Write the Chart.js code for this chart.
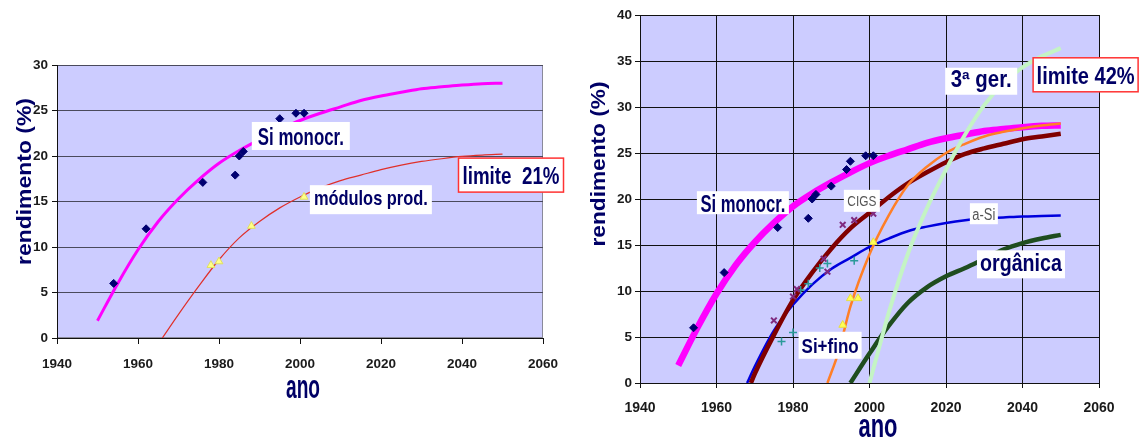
<!DOCTYPE html>
<html>
<head>
<meta charset="utf-8">
<script src="https://cdn.jsdelivr.net/npm/chart.js@4.4.1/dist/chart.umd.min.js"></script>
<style>
  html, body { margin: 0; padding: 0; background: #fff; }
  #wrap { position: relative; width: 1144px; height: 439px; overflow: hidden; }
  canvas { position: absolute; top: 0; }
  #leftChart { left: 0; }
  #rightChart { left: 584px; }
</style>
</head>
<body>
<div id="wrap">
  <canvas id="leftChart" width="580" height="439"></canvas>
  <canvas id="rightChart" width="560" height="439"></canvas>
</div>
<script>
// tick labels
const yearTicks = [1940, 1960, 1980, 2000, 2020, 2040, 2060];
const leftYTicks = [0, 5, 10, 15, 20, 25, 30];
const rightYTicks = [0, 5, 10, 15, 20, 25, 30, 35, 40];

// Si monocristalino: fitted curve + measured cells
const siCurveYears = [1950, 1955, 1960, 1965, 1970, 1975, 1980, 1985, 1990, 1995, 2000, 2005, 2010, 2015, 2020, 2025, 2030, 2035, 2040, 2045, 2050];
const siCurve = [1.9, 6.0, 9.7, 12.8, 15.3, 17.4, 19.2, 20.6, 21.8, 22.9, 23.9, 24.7, 25.4, 26.1, 26.6, 27.0, 27.4, 27.6, 27.8, 27.95, 28.0];
const siLeftYears = [1954, 1962, 1976, 1984, 1985, 1986, 1995, 1999, 2001];
const siLeft = [6.0, 12.0, 17.1, 17.9, 20.0, 20.5, 24.1, 24.7, 24.7];
const siRightYears = [1954, 1962, 1976, 1984, 1985, 1986, 1990, 1994, 1995, 1999, 2001];
const siRight = [6.0, 12.0, 16.9, 17.9, 20.0, 20.5, 21.4, 23.2, 24.1, 24.7, 24.7];

// módulos de produção (left chart)
const modCurveYears = [1966, 1970, 1975, 1980, 1985, 1990, 1995, 2000, 2005, 2010, 2015, 2020, 2025, 2030, 2035, 2040, 2045, 2050];
const modCurve = [0, 2.6, 5.7, 8.6, 11.0, 12.8, 14.3, 15.5, 16.5, 17.3, 17.9, 18.5, 19.0, 19.4, 19.7, 19.95, 20.1, 20.2];
const modYears = [1978, 1980, 1988, 2001];
const modValues = [8.0, 8.4, 12.3, 15.5];

// CIGS
const cigsCurveYears = [1969, 1970, 1975, 1980, 1985, 1990, 1995, 2000, 2005, 2010, 2015, 2020, 2025, 2030, 2035, 2040, 2045, 2050];
const cigsCurve = [0, 1.0, 5.2, 9.0, 12.0, 14.6, 16.8, 18.5, 20.2, 21.7, 22.9, 24.0, 24.9, 25.5, 26.0, 26.5, 26.8, 27.1];
const cigsYears = [1975, 1980, 1981, 1988, 1989, 1993, 1996, 2001];
const cigsValues = [6.8, 9.4, 10.2, 13.5, 12.1, 17.2, 17.7, 18.4];

// a-Si
const aSiCurveYears = [1968, 1970, 1975, 1980, 1985, 1990, 1995, 2000, 2005, 2010, 2015, 2020, 2025, 2030, 2035, 2040, 2045, 2050];
const aSiCurve = [0, 1.8, 5.7, 8.5, 10.7, 12.4, 13.6, 14.8, 15.7, 16.5, 17.0, 17.4, 17.7, 17.9, 18.0, 18.1, 18.15, 18.2];
const aSiYears = [1977, 1980, 1982, 1984, 1987, 1989, 1996];
const aSiValues = [4.5, 5.5, 10.1, 10.8, 12.5, 13.0, 13.3];

// orange series
const orangeCurveYears = [1989, 1992, 1995, 2000, 2005, 2010, 2015, 2020, 2025, 2030, 2035, 2040, 2045, 2050];
const orangeCurve = [0, 3.5, 8.3, 14.0, 18.2, 21.5, 23.5, 25.0, 26.0, 26.8, 27.3, 27.7, 28.0, 28.2];
const orangeYears = [1993, 1995, 1997, 2001];
const orangeValues = [6.3, 9.2, 9.2, 15.3];

// 3a geração
const thirdYears = [2000, 2003, 2005, 2010, 2015, 2020, 2025, 2030, 2035, 2040, 2045, 2050];
const thirdCurve = [0, 4.6, 7.6, 14.0, 19.0, 23.2, 27.0, 30.2, 32.6, 34.3, 35.5, 36.4];

// orgânica
const orgYears = [1995, 2000, 2005, 2010, 2015, 2020, 2025, 2030, 2035, 2040, 2045, 2050];
const orgCurve = [0, 3.2, 6.2, 8.7, 10.4, 11.6, 12.5, 13.5, 14.5, 15.2, 15.7, 16.1];

const FONT = '"Liberation Sans", Arial, sans-serif';
const NAVY = '#000066';
const PLOT_BG = '#ccccff';

const pts = (xs, ys) => xs.map((x, i) => ({ x: x, y: ys[i] }));

function drawNote(ctx, n, x, y) {
  ctx.save();
  ctx.font = (n.bold === false ? '' : 'bold ') + n.size + 'px ' + FONT;
  const m = ctx.measureText(n.text);
  const sx = n.width ? n.width / m.width : 1;
  ctx.translate(x, y);
  if (n.rotate) ctx.rotate(n.rotate);
  if (n.box) {
    const w = n.box[0], h = n.box[1];
    ctx.fillStyle = '#ffffff';
    ctx.fillRect(-w / 2, -h / 2, w, h);
    if (n.border) {
      ctx.strokeStyle = n.border;
      ctx.lineWidth = 1.5;
      ctx.strokeRect(-w / 2, -h / 2, w, h);
    }
  }
  ctx.scale(sx, 1);
  ctx.fillStyle = n.color || NAVY;
  ctx.textAlign = 'center';
  ctx.textBaseline = 'alphabetic';
  ctx.fillText(n.text, 0, (m.actualBoundingBoxAscent - m.actualBoundingBoxDescent) / 2);
  ctx.restore();
}

function sheet(notes, titles, frame) {
  return {
    id: 'sheet',
    beforeDraw(chart) {
      const ctx = chart.ctx, a = chart.chartArea;
      ctx.save();
      ctx.fillStyle = '#ffffff';
      ctx.fillRect(0, 0, chart.width, chart.height);
      ctx.fillStyle = PLOT_BG;
      ctx.fillRect(a.left, a.top, a.right - a.left, a.bottom - a.top);
      if (frame) {
        ctx.strokeStyle = frame;
        ctx.lineWidth = 1;
        ctx.strokeRect(a.left + 0.5, a.top + 0.5, a.right - a.left - 1, a.bottom - a.top - 1);
      }
      ctx.restore();
    },
    afterDatasetsDraw(chart) {
      const sx = chart.scales.x, sy = chart.scales.y;
      notes.forEach(n => drawNote(chart.ctx, n, sx.getPixelForValue(n.year), sy.getPixelForValue(n.value)));
      titles.forEach(t => drawNote(chart.ctx, t, t.px, t.py));
    }
  };
}

function scales(o) {
  const tickFont = { family: FONT, size: 13.5, weight: 'bold' };
  return {
    x: {
      type: 'linear', min: yearTicks[0], max: yearTicks[yearTicks.length - 1],
      afterBuildTicks: s => { s.ticks = yearTicks.map(v => ({ value: v })); },
      afterFit: s => { s.height = o.xHeight; },
      ticks: { font: o.xFont || tickFont, color: '#1a1a1a', padding: o.xPad, maxRotation: 0, autoSkip: false, callback: v => String(v) },
      grid: { drawOnChartArea: o.vGrid, color: o.grid, tickColor: '#111', tickLength: o.xTick, drawTicks: true },
      border: { color: '#111', width: 1 }
    },
    y: {
      type: 'linear', min: 0, max: o.yTicks[o.yTicks.length - 1],
      afterBuildTicks: s => { s.ticks = o.yTicks.map(v => ({ value: v })); },
      afterFit: s => { s.width = o.yWidth; },
      ticks: { font: tickFont, color: '#1a1a1a', padding: o.yPad, callback: v => String(v) },
      grid: { color: o.grid, tickColor: '#111', tickLength: 5, drawTicks: true },
      border: { color: '#111', width: 1 }
    }
  };
}

const curve = (xs, ys, color, width) => ({
  data: pts(xs, ys), showLine: true, borderColor: color, backgroundColor: color,
  borderWidth: width, pointRadius: 0, cubicInterpolationMode: 'monotone'
});
const marks = (xs, ys, style, fill, stroke, r, bw) => ({
  data: pts(xs, ys), showLine: false, pointStyle: style, pointRadius: r,
  backgroundColor: fill, borderColor: stroke, borderWidth: bw
});

const baseOpts = {
  responsive: false, animation: false, devicePixelRatio: 1,
  plugins: { legend: { display: false }, tooltip: { enabled: false } }
};

// ---------- left chart ----------
const leftNotes = [
  { text: 'Si monocr.', year: 2000.2, value: 22.2, size: 23, width: 86, box: [98, 28] },
  { text: 'módulos prod.', year: 2017.5, value: 15.2, size: 21, width: 114, box: [122, 29] },
  { text: 'limite  21%', year: 2052.1, value: 17.9, size: 23, width: 97, box: [105, 34], border: '#ff3333' }
];
const leftTitles = [
  { text: 'rendimento (%)', px: 25, py: 181.5, size: 20, width: 167, rotate: -Math.PI / 2 },
  { text: 'ano', px: 303, py: 389, size: 34, width: 34 }
];

new Chart(document.getElementById('leftChart'), {
  type: 'scatter',
  data: {
    datasets: [
      marks(siLeftYears, siLeft, 'rectRot', '#000070', '#000070', 4, 1),
      marks(modYears, modValues, 'triangle', '#ffff88', '#e0e060', 4.5, 1),
      curve(siCurveYears, siCurve, '#ff00ff', 3),
      curve(modCurveYears, modCurve, '#e0302a', 1.2)
    ]
  },
  options: Object.assign({}, baseOpts, {
    layout: { padding: { left: 0, top: 65, right: 37, bottom: 0 } },
    scales: scales({ xHeight: 101, yWidth: 57, yTicks: leftYTicks, vGrid: false, grid: '#4a4a5c', xTick: 6, xPad: 12, yPad: 4 })
  }),
  plugins: [sheet(leftNotes, leftTitles, '#8a8a9a')]
});

// ---------- right chart ----------
const rightNotes = [
  { text: 'Si monocr.', year: 1966.9, value: 19.6, size: 23, width: 85, box: [92, 23] },
  { text: 'CIGS', year: 1998.0, value: 19.8, size: 15, width: 29, box: [36, 22], bold: false, color: '#555555' },
  { text: 'a-Si', year: 2029.9, value: 18.4, size: 16, width: 23, box: [28, 21], bold: false, color: '#555555' },
  { text: '3ª ger.', year: 2029.2, value: 32.8, size: 23, width: 61, box: [72, 27] },
  { text: 'limite 42%', year: 2056.5, value: 33.5, size: 23, width: 98, box: [105, 34], border: '#ff3333' },
  { text: 'orgânica', year: 2039.6, value: 12.9, size: 24, width: 82, box: [88, 28] },
  { text: 'Si+fino', year: 1989.7, value: 4.1, size: 21, width: 57, box: [63, 27] }
];
const rightTitles = [
  { text: 'rendimento (%)', px: 15, py: 164, size: 20, width: 165, rotate: -Math.PI / 2 },
  { text: 'ano', px: 294, py: 428, size: 34, width: 39 }
];

new Chart(document.getElementById('rightChart'), {
  type: 'scatter',
  data: {
    datasets: [
      marks(siRightYears, siRight, 'rectRot', '#000070', '#000070', 4, 1),
      marks(cigsYears, cigsValues, 'crossRot', '#7f2a7f', '#7f2a7f', 4, 2),
      marks(aSiYears, aSiValues, 'cross', '#2a9a9a', '#2a9a9a', 4, 1.5),
      marks(orangeYears, orangeValues, 'triangle', '#ffff55', '#e8e040', 4.5, 1),
      curve(thirdYears, thirdCurve, '#c4f4c4', 4),
      curve(orangeCurveYears, orangeCurve, '#ff7f27', 2.5),
      curve(siCurveYears, siCurve, '#ff00ff', 6.5),
      curve(cigsCurveYears, cigsCurve, '#800000', 4.5),
      curve(aSiCurveYears, aSiCurve, '#0000dd', 2.5),
      curve(orgYears, orgCurve, '#1f4d1f', 4.5)
    ]
  },
  options: Object.assign({}, baseOpts, {
    layout: { padding: { left: 0, top: 15, right: 45, bottom: 0 } },
    scales: scales({ xHeight: 56, yWidth: 56, yTicks: rightYTicks, vGrid: true, grid: '#111111', xTick: 5, xPad: 12, yPad: 3,
                     xFont: { family: FONT, size: 14, weight: 'bold' } })
  }),
  plugins: [sheet(rightNotes, rightTitles, null)]
});
</script>
</body>
</html>
